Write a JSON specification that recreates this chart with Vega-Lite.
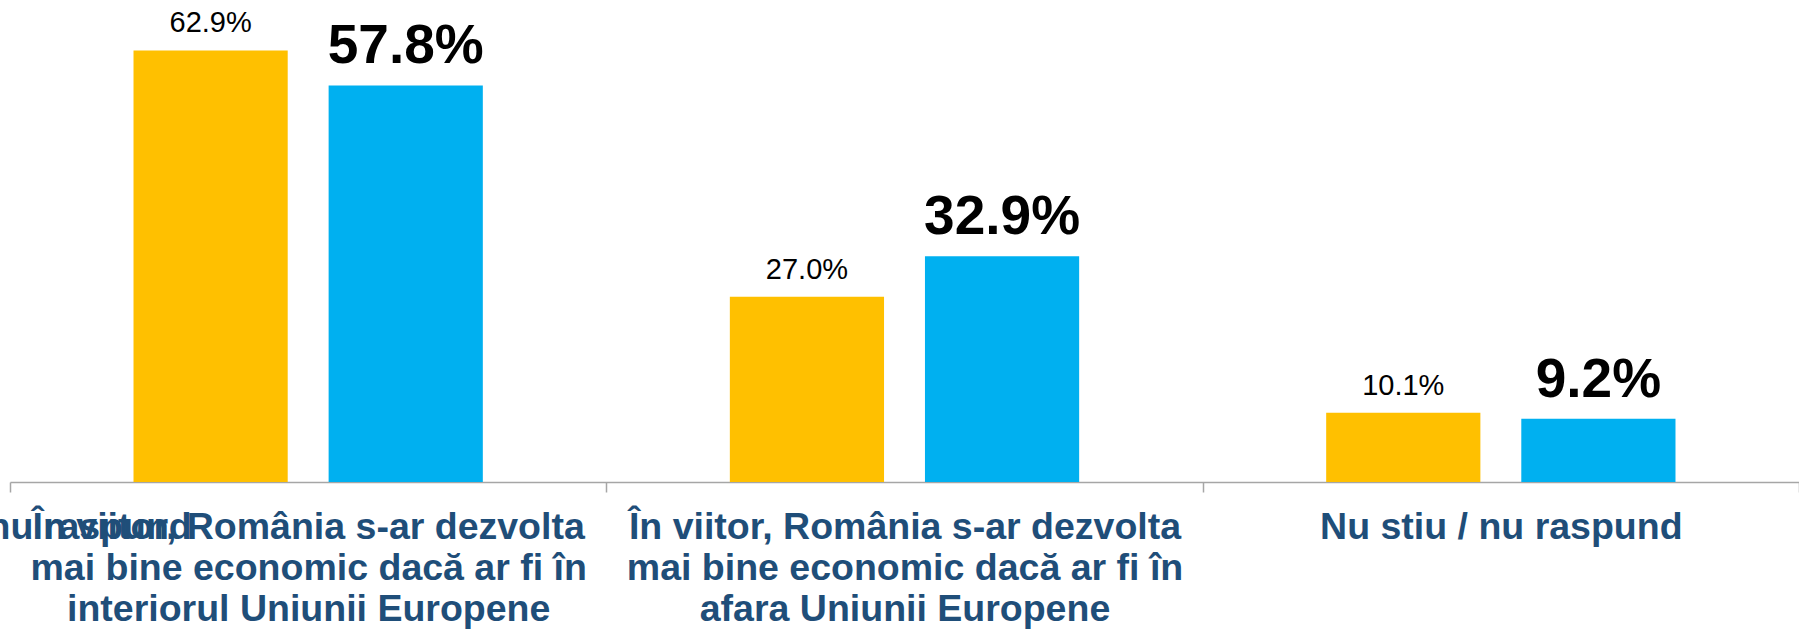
{
  "$schema": "https://vega.github.io/schema/vega-lite/v6.json",
  "autosize": {"type": "none"},
  "width": 1789,
  "height": 481,
  "padding": {"left": 10, "top": 1, "right": 0, "bottom": 148},
  "config": {"view": {"stroke": null}},
  "data": {
    "values": [
      {"categorie": "interior UE", "serie": "Sondaj anterior", "procent": 0.629},
      {"categorie": "interior UE", "serie": "Sondaj curent", "procent": 0.578},
      {"categorie": "afara UE", "serie": "Sondaj anterior", "procent": 0.270},
      {"categorie": "afara UE", "serie": "Sondaj curent", "procent": 0.329},
      {"categorie": "NS/NR", "serie": "Sondaj anterior", "procent": 0.101},
      {"categorie": "NS/NR", "serie": "Sondaj curent", "procent": 0.092}
    ]
  },
  "encoding": {
    "x": {
      "field": "categorie",
      "type": "nominal",
      "scale": {"domain": ["interior UE", "afara UE", "NS/NR"], "paddingInner": 0, "paddingOuter": 0},
      "axis": {
        "title": null,
        "labelAngle": 0,
        "labelFont": "Liberation Sans",
        "labelFontWeight": "bold",
        "labelFontSize": 37.5,
        "labelColor": "#1F4E79",
        "labelLineHeight": 41,
        "labelBaseline": "top",
        "labelPadding": 16,
        "labelLimit": 700,
        "labelExpr": "datum.value == 'interior UE' ? ['\u00cen viitor, Rom\u00e2nia s-ar dezvolta', 'mai bine economic dac\u0103 ar fi \u00een', 'interiorul Uniunii Europene'] : datum.value == 'afara UE' ? ['\u00cen viitor, Rom\u00e2nia s-ar dezvolta', 'mai bine economic dac\u0103 ar fi \u00een', 'afara Uniunii Europene'] : 'Nu stiu / nu raspund'",
        "tickBand": "extent",
        "tickSize": 10,
        "tickColor": "#A6A6A6",
        "tickWidth": 1.5,
        "domainColor": "#A6A6A6",
        "domainWidth": 1.5
      }
    },
    "y": {"field": "procent", "type": "quantitative", "scale": {"domain": [0, 0.701], "nice": false}, "axis": null}
  },
  "layer": [
    {
      "mark": {"type": "bar"},
      "encoding": {
        "xOffset": {"field": "serie", "type": "nominal", "scale": {"paddingInner": 0.2097, "paddingOuter": 0.633}},
        "color": {"field": "serie", "type": "nominal", "scale": {"domain": ["Sondaj anterior", "Sondaj curent"], "range": ["#FFC000", "#00B0F0"]}, "legend": null}
      }
    },
    {
      "transform": [{"filter": "datum.serie == 'Sondaj anterior'"}],
      "mark": {"type": "text", "baseline": "alphabetic", "align": "center", "dy": -18, "fontSize": 29, "font": "Liberation Sans", "color": "#000000"},
      "encoding": {
        "xOffset": {"field": "serie", "type": "nominal"},
        "text": {"field": "procent", "type": "quantitative", "format": ".1%"}
      }
    },
    {
      "transform": [{"filter": "datum.serie == 'Sondaj curent'"}],
      "mark": {"type": "text", "baseline": "alphabetic", "align": "center", "dy": -22, "fontSize": 55, "fontWeight": "bold", "font": "Liberation Sans", "color": "#000000"},
      "encoding": {
        "xOffset": {"field": "serie", "type": "nominal"},
        "text": {"field": "procent", "type": "quantitative", "format": ".1%"}
      }
    }
  ]
}
